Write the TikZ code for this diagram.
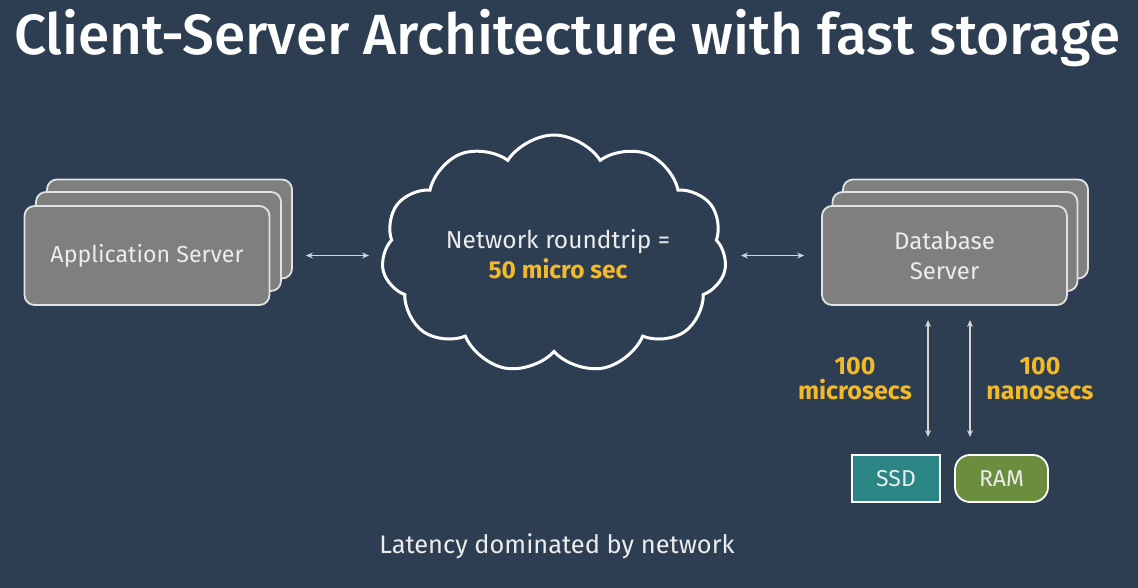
\documentclass[tikz,border=0pt]{standalone}
\usepackage{fontspec}
\setmainfont{Fira Sans}
\newfontfamily\titlefont{Fira Sans}[UprightFont=* Medium]
\usetikzlibrary{shapes.symbols,arrows.meta}
\definecolor{bg}{HTML}{2D3E52}
\definecolor{boxgray}{HTML}{7F7F7F}
\definecolor{boxline}{HTML}{E2E2E2}
\definecolor{txt}{HTML}{ECECEC}
\definecolor{yel}{HTML}{F2B929}
\definecolor{teal}{HTML}{2A8584}
\definecolor{grn}{HTML}{6A8E3E}
\definecolor{arrgray}{HTML}{D5D5D5}
\tikzset{
  srv/.style={draw=boxline, fill=boxgray, line width=1.8pt, rounded corners=10pt,
    minimum width=245pt, minimum height=99pt, inner sep=0pt},
  lbl/.style={text=txt, font=\fontsize{23}{30}\selectfont, align=center},
  num/.style={text=yel, font=\bfseries\fontsize{25}{25}\selectfont, align=center},
  arr/.style={draw=arrgray, line width=1.3pt, {Stealth[length=7pt,width=6pt]}-{Stealth[length=7pt,width=6pt]}},
}
\begin{document}
\begin{tikzpicture}[x=1pt,y=-1pt]
\fill[bg] (0,0) rectangle (1138,588);
\useasboundingbox (0,0) rectangle (1138,588);
\node[text=white, font=\titlefont\fontsize{56.7}{60}\selectfont] (title) at (567.5,38) {Client-Server Architecture with fast storage};
% application server stack
\node[srv] (appback) at (169.5,229) {};
\node[srv] (appmid) at (158.5,241.5) {};
\node[srv, lbl, font=\fontsize{23.2}{28}\selectfont] (app) at (147,255.5) {Application Server};
% cloud
\node[cloud, cloud puffs=11, cloud puff arc=115, aspect=1.45, draw=white, line width=3pt,
  minimum width=345pt, minimum height=238pt, inner sep=0pt] (cloud) at (554,254) {};
\node[align=center, font=\fontsize{24.5}{30}\selectfont, text=txt] (cloudtxt) at (558,254)
  {Network roundtrip =\\{\color{yel}\bfseries 50 micro sec}};
% database stack
\node[srv] (dbback) at (965.5,229) {};
\node[srv] (dbmid) at (955,241.5) {};
\node[srv, lbl, font=\fontsize{24}{30}\selectfont] (db) at (944.5,255.5) {Database\\Server};
% storage
\node[draw=white, fill=teal, line width=1.8pt, minimum width=88pt, minimum height=47pt,
  lbl, inner sep=0pt] (ssd) at (896,478.5) {SSD};
\node[draw=white, fill=grn, line width=1.8pt, rounded corners=15pt, minimum width=93pt,
  minimum height=47pt, lbl, inner sep=0pt] (ram) at (1001.5,478.5) {RAM};
% connectors
\draw[arr] ([xshift=13pt]appback.east |- app.center) -- ([xshift=-13pt]cloud.west |- app.center);
\draw[arr] ([xshift=15pt]cloud.east |- app.center) -- ([xshift=-17pt]db.west);
\coordinate (s1) at (928,320);
\coordinate (s2) at (928,437);
\coordinate (r1) at (970,320);
\coordinate (r2) at (970,437);
\draw[arr] (s1) -- (s2);
\draw[arr] (r1) -- (r2);
\node[num] (lat1) at (855,379) {100\\microsecs};
\node[num] (lat2) at (1040,379) {100\\nanosecs};
\node[lbl, font=\fontsize{25.4}{30}\selectfont] (foot) at (557,546) {Latency dominated by network};
\end{tikzpicture}
\end{document}
